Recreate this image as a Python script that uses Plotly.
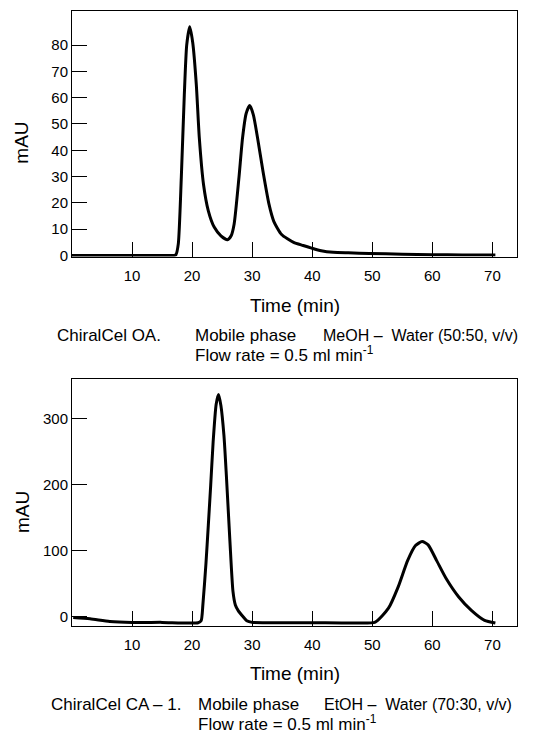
import plotly.graph_objects as go

W, H = 544, 738

# ---- Data: ChiralCel OA (top) ----
oa_time = [0, 5, 10, 15, 17.0, 17.3, 17.7, 18.2, 18.7, 19.1, 19.6, 20.1, 20.7, 21.2, 21.9,
           22.7, 23.7, 24.8, 25.9, 26.5, 27.0, 27.8, 28.4, 29.0, 29.6, 30.2, 30.9, 31.8,
           32.8, 33.6, 34.9, 36.9, 38.5, 39.9, 41.5, 43.5, 46, 49.5, 55, 60, 65, 70.5]
oa_mau = [0, 0, 0, 0, 0, 0.3, 4.4, 29.6, 61, 80, 87, 81, 65, 44.7, 27,
          17, 10.7, 7.5, 6, 7.5, 12, 29.6, 44.7, 54, 57, 53.5, 44.7, 32,
          19.5, 13, 8, 5, 3.8, 2.8, 1.8, 1.2, 1.0, 0.8, 0.5, 0.3, 0.2, 0.2]

# ---- Data: ChiralCel CA-1 (bottom) ----
ca_time = [0.2, 3, 6.3, 10, 15, 21.0, 21.5, 21.8, 22.3, 22.7, 23.1, 23.5, 24.0, 24.4, 24.8,
           25.3, 25.7, 26.3, 26.8, 27.2, 27.7, 28.5, 29.1, 30, 40, 47.3, 50.5, 52.7,
           54.3, 55.9, 57.2, 58.3, 59.3, 60.7, 62.3, 64.4, 66.5, 68.7, 70.5]
ca_mau = [-1, -3, -7, -8.5, -8.5, -9, -6, 19, 80, 139, 200, 265, 322, 337, 320,
          275, 215, 114, 39, 18, 9, 0, -6, -8.5, -9, -9.5, -8, 13,
          45, 85.5, 108, 114, 109, 85.5, 58, 30, 9.7, -5.4, -9.5]

x_ticks = [10, 20, 30, 40, 50, 60, 70]
oa_yticks = [0, 10, 20, 30, 40, 50, 60, 70, 80]
ca_yticks = [0, 100, 200, 300]

FONT = "Liberation Sans, Arial, sans-serif"

fig = go.Figure()
fig.add_trace(go.Scatter(x=oa_time, y=oa_mau, mode="lines", xaxis="x", yaxis="y",
                         line=dict(color="black", width=3, shape="spline", smoothing=0.6),
                         showlegend=False))
fig.add_trace(go.Scatter(x=ca_time, y=ca_mau, mode="lines", xaxis="x2", yaxis="y2",
                         line=dict(color="black", width=3, shape="spline", smoothing=0.6),
                         showlegend=False))

def px_x(p):
    return p / W

def px_y(p):
    return 1 - p / H

xdom = [px_x(72), px_x(517)]
axis_common = dict(showline=True, linecolor="black", linewidth=1, mirror=True,
                   ticks="inside", ticklen=15, tickwidth=1, tickcolor="black",
                   showgrid=False, zeroline=False,
                   tickfont=dict(family=FONT, size=15, color="black"))

fig.update_layout(
    width=W, height=H,
    margin=dict(l=0, r=0, t=0, b=0),
    paper_bgcolor="white", plot_bgcolor="white",
    font=dict(family=FONT, color="black"),
    xaxis=dict(domain=xdom, range=[0, 74.1], tickvals=x_ticks, anchor="y",
               ticklabelstandoff=5, **axis_common),
    yaxis=dict(domain=[px_y(259), px_y(11)], range=[-0.4, 93], tickvals=oa_yticks,
               anchor="x", **axis_common),
    xaxis2=dict(domain=xdom, range=[0, 74.1], tickvals=x_ticks, anchor="y2",
                ticklabelstandoff=5, **axis_common),
    yaxis2=dict(domain=[px_y(632), px_y(383)], range=[-14, 360], tickvals=ca_yticks,
                anchor="x2", **axis_common),
)

def ann(text, x, y, size, xanchor="left", angle=0):
    fig.add_annotation(text=text, x=px_x(x), y=px_y(y), xref="paper", yref="paper",
                       xanchor=xanchor, yanchor="middle", showarrow=False,
                       textangle=angle, borderpad=0,
                       font=dict(family=FONT, size=size, color="black"))

# Axis titles
ann("mAU", 22, 144, 19, xanchor="center", angle=-90)
ann("Time (min)", 295, 308, 19, xanchor="center")
ann("mAU", 22, 517, 19, xanchor="center", angle=-90)
ann("Time (min)", 295, 680, 19, xanchor="center")

# Captions
ann("ChiralCel OA.", 56, 339, 17)
ann("Mobile phase", 194, 339, 17)
ann("MeOH –  Water (50:50, v/v)", 322, 339, 16)
ann("Flow rate = 0.5 ml min<sup>-1</sup>", 194, 357, 17)

ann("ChiralCel CA – 1.", 50, 711, 17)
ann("Mobile phase", 197, 711, 17)
ann("EtOH –  Water (70:30, v/v)", 323, 711, 16)
ann("Flow rate = 0.5 ml min<sup>-1</sup>", 197, 730, 17)

fig.write_html("out.html", config={"displayModeBar": False},
               post_script="document.body.style.margin='0px';")
